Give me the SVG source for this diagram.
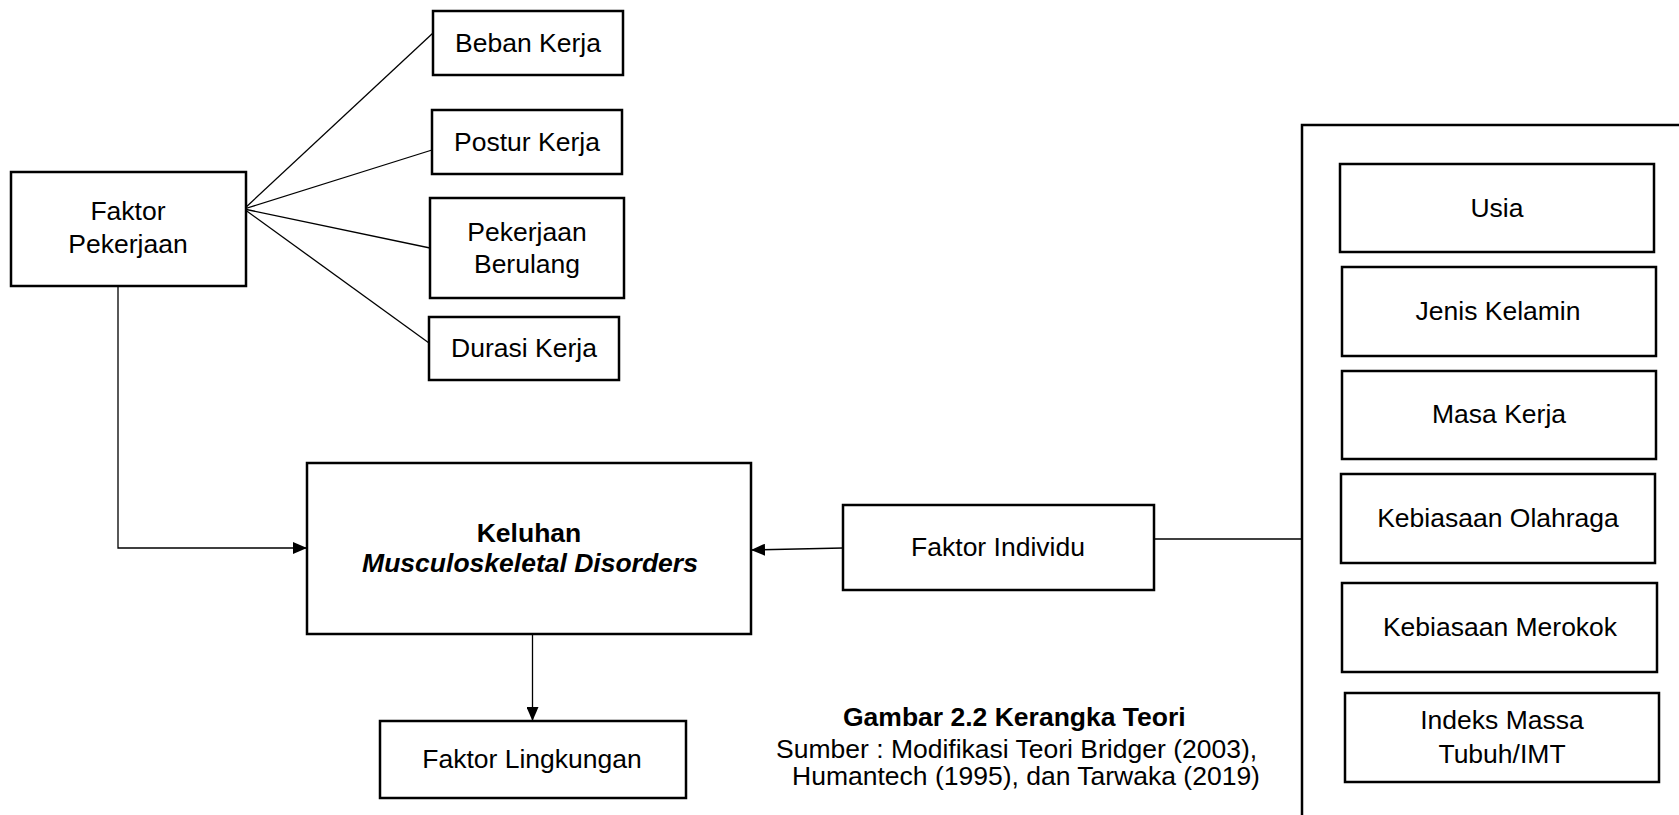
<svg xmlns="http://www.w3.org/2000/svg" width="1679" height="815" viewBox="0 0 1679 815">
<style>
.box{fill:#fff;stroke:#000;stroke-width:2.5}
.ln{fill:none;stroke:#000;stroke-width:1.3}
.t{font-family:"Liberation Sans",Arial,sans-serif;font-size:26.5px;fill:#000;text-anchor:middle}
.b{font-weight:bold}
.bi{font-weight:bold;font-style:italic}
.s{text-anchor:start}
</style>
<defs>
<marker id="arr" markerWidth="14" markerHeight="12" refX="14" refY="6" orient="auto" markerUnits="userSpaceOnUse">
<path d="M0,0 L14,6 L0,12 Z" fill="#000"/>
</marker>
</defs>
<rect width="1679" height="815" fill="#fff"/>
<g id="connectors">
<line class="ln" x1="244" y1="209" x2="433" y2="33"/>
<line class="ln" x1="244" y1="209" x2="432" y2="150"/>
<line class="ln" x1="244" y1="209" x2="430" y2="248"/>
<line class="ln" x1="244" y1="209" x2="429" y2="343"/>
<polyline class="ln" points="118,283 118,548 307,548" marker-end="url(#arr)"/>
<line class="ln" x1="843" y1="548" x2="751" y2="550" marker-end="url(#arr)"/>
<line class="ln" x1="532.5" y1="634" x2="532.5" y2="721" marker-end="url(#arr)"/>
<line class="ln" x1="1154" y1="539" x2="1302" y2="539"/>
</g>
<g id="panel">
<path d="M1682,125 H1302 V818" fill="none" stroke="#000" stroke-width="2.5"/>
</g>
<g id="faktor-pekerjaan">
<rect class="box" x="11" y="172" width="235" height="114"/>
<text class="t" x="128" y="220">Faktor</text>
<text class="t" x="128" y="253">Pekerjaan</text>
</g>
<g id="beban-kerja">
<rect class="box" x="433" y="11" width="190" height="64"/>
<text class="t" x="528" y="52">Beban Kerja</text>
</g>
<g id="postur-kerja">
<rect class="box" x="432" y="110" width="190" height="64"/>
<text class="t" x="527" y="151">Postur Kerja</text>
</g>
<g id="pekerjaan-berulang">
<rect class="box" x="430" y="198" width="194" height="100"/>
<text class="t" x="527" y="241">Pekerjaan</text>
<text class="t" x="527" y="273">Berulang</text>
</g>
<g id="durasi-kerja">
<rect class="box" x="429" y="317" width="190" height="63"/>
<text class="t" x="524" y="357">Durasi Kerja</text>
</g>
<g id="keluhan-msd">
<rect class="box" x="307" y="463" width="444" height="171"/>
<text class="t b" x="529" y="542">Keluhan</text>
<text class="t bi" x="530" y="572">Musculoskeletal Disorders</text>
</g>
<g id="faktor-lingkungan">
<rect class="box" x="380" y="721" width="306" height="77"/>
<text class="t" x="532" y="768">Faktor Lingkungan</text>
</g>
<g id="faktor-individu">
<rect class="box" x="843" y="505" width="311" height="85"/>
<text class="t" x="998" y="556">Faktor Individu</text>
</g>
<g id="usia">
<rect class="box" x="1340" y="164" width="314" height="88"/>
<text class="t" x="1497" y="217">Usia</text>
</g>
<g id="jenis-kelamin">
<rect class="box" x="1342" y="267" width="314" height="89"/>
<text class="t" x="1498" y="320">Jenis Kelamin</text>
</g>
<g id="masa-kerja">
<rect class="box" x="1342" y="371" width="314" height="88"/>
<text class="t" x="1499" y="423">Masa Kerja</text>
</g>
<g id="kebiasaan-olahraga">
<rect class="box" x="1341" y="474" width="314" height="89"/>
<text class="t" x="1498" y="527">Kebiasaan Olahraga</text>
</g>
<g id="kebiasaan-merokok">
<rect class="box" x="1342" y="583" width="315" height="89"/>
<text class="t" x="1500" y="636">Kebiasaan Merokok</text>
</g>
<g id="imt">
<rect class="box" x="1345" y="693" width="314" height="89"/>
<text class="t" x="1502" y="729">Indeks Massa</text>
<text class="t" x="1502" y="763">Tubuh/IMT</text>
</g>
<g id="caption">
<text class="t b s" x="843" y="726">Gambar 2.2 Kerangka Teori</text>
<text class="t s" x="776" y="758">Sumber : Modifikasi Teori Bridger (2003),</text>
<text class="t s" x="792" y="785">Humantech (1995), dan Tarwaka (2019)</text>
</g>
</svg>
